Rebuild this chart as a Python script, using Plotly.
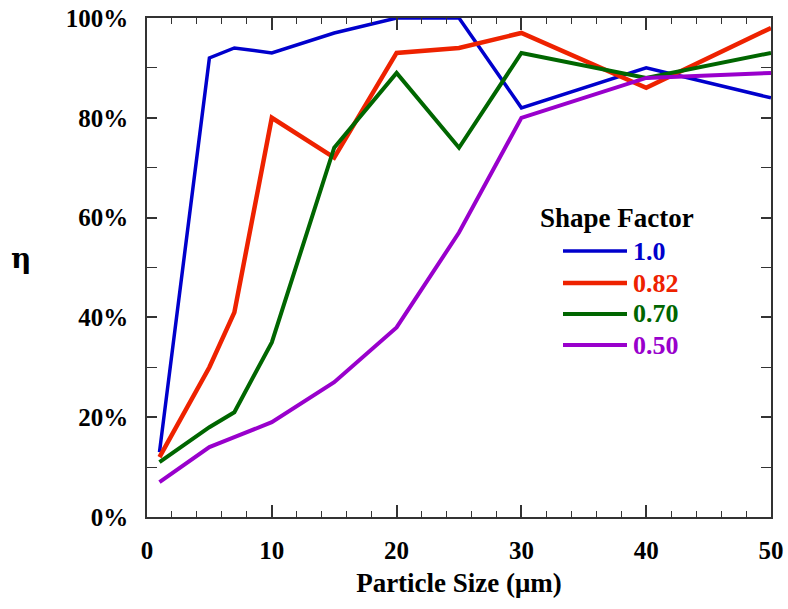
import plotly.graph_objects as go

particle_size = [1, 5, 7, 10, 15, 20, 25, 30, 40, 50]
shape_factors = ["1.0", "0.82", "0.70", "0.50"]
eta_sf_100 = [13, 92, 94, 93, 97, 100, 100, 82, 90, 84]
eta_sf_082 = [12, 30, 41, 80, 72, 93, 94, 97, 86, 98]
eta_sf_070 = [11, 18, 21, 35, 74, 89, 74, 93, 88, 93]
eta_sf_050 = [7, 14, 16, 19, 27, 38, 57, 80, 88, 89]
y_ticks = [0, 20, 40, 60, 80, 100]
y_tick_labels = ["0%", "20%", "40%", "60%", "80%", "100%"]
x_ticks = [0, 10, 20, 30, 40, 50]

series = [eta_sf_100, eta_sf_082, eta_sf_070, eta_sf_050]
colors = ["#0000CC", "#EE2200", "#006600", "#9900CC"]
widths = [3.5, 4.5, 4, 4]

FONT = "Liberation Serif"

fig = go.Figure()
for name, ys, c, w in zip(shape_factors, series, colors, widths):
    fig.add_trace(go.Scatter(x=particle_size, y=ys, mode="lines", name=name,
                             line=dict(color=c, width=w), showlegend=False))

axis_common = dict(
    showline=True, linecolor="#333333", linewidth=1.5, mirror="ticks",
    ticks="inside", tickcolor="#333333", tickwidth=1.5,
    showgrid=False, zeroline=False, automargin=False,
    tickfont=dict(family=FONT, size=25, color="black", weight="bold"),
)

fig.update_xaxes(range=[0, 50], tickvals=x_ticks, ticklen=12,
                 minor=dict(dtick=2, ticks="inside", ticklen=6, tickcolor="#333333", tickwidth=1.2),
                 ticklabelstandoff=10,
                 title=dict(text="Particle Size (μm)", standoff=10,
                            font=dict(family=FONT, size=27, color="black", weight="bold")),
                 **axis_common)
fig.update_yaxes(range=[0, 100], tickvals=y_ticks, ticktext=y_tick_labels, ticklen=10,
                 minor=dict(dtick=10, ticks="inside", ticklen=10, tickcolor="#333333", tickwidth=1.2),
                 ticklabelstandoff=12,
                 **axis_common)

# legend drawn as layout decoration
legend_y_px = [251, 283, 314, 345]
shapes = []
ann = [dict(text="<b>η</b>", xref="paper", yref="paper",
            x=(21 - 147) / 624, y=(517 - 258) / 499, showarrow=False,
            font=dict(family="DejaVu Serif", size=28, color="black"),
            xanchor="center", yanchor="middle"),
       dict(text="<b>Shape Factor</b>", xref="paper", yref="paper",
            x=(617 - 147) / 624, y=(517 - 218) / 499, showarrow=False,
            font=dict(family=FONT, size=27, color="black"),
            xanchor="center", yanchor="middle")]
for name, c, w, py in zip(shape_factors, colors, widths, legend_y_px):
    yp = (517 - py) / 499
    shapes.append(dict(type="line", xref="paper", yref="paper",
                       x0=(563 - 147) / 624, x1=(627 - 147) / 624, y0=yp, y1=yp,
                       line=dict(color=c, width=w)))
    ann.append(dict(text=f"<b>{name}</b>", xref="paper", yref="paper",
                    x=(631 - 147) / 624, y=yp, showarrow=False,
                    font=dict(family=FONT, size=26, color=c),
                    xanchor="left", yanchor="middle"))

fig.update_layout(
    width=788, height=609,
    margin=dict(l=147, r=17, t=18, b=92),
    plot_bgcolor="white", paper_bgcolor="white",
    shapes=shapes, annotations=ann,
    showlegend=False,
)

fig.write_html("out.html", config={"displayModeBar": False},
               post_script="document.body.style.margin='0';document.body.style.overflow='hidden';")
